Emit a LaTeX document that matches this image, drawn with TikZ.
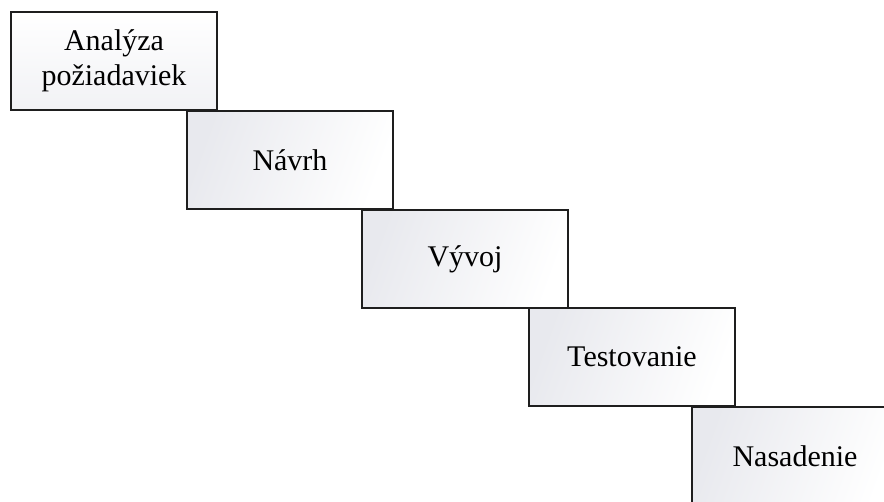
\documentclass[tikz,border=0pt]{standalone}
\usepackage{fontspec}
\setmainfont{Liberation Serif}
\definecolor{boxshade}{HTML}{E8E9EE}
\definecolor{boxline}{HTML}{1E1E1E}
\tikzset{
  phase/.style={draw=boxline, line width=1.6pt, minimum width=206pt, minimum height=98pt,
    inner sep=0pt, outer sep=0pt, left color=boxshade, right color=white, shading angle=70,
    align=center, font=\fontsize{30}{35}\selectfont},
  firstphase/.style={phase, top color=white, bottom color=boxshade!60}
}
\begin{document}
\begin{tikzpicture}[x=1pt,y=-1pt]
\useasboundingbox (0,0) rectangle (884,501);
\clip (0,0) rectangle (884,501);
\node[firstphase] (a) at (114,61) {Analýza\\požiadaviek};
\node[phase] (n) at (290,160) {Návrh};
\node[phase] (v) at (465,259) {Vývoj};
\node[phase] (t) at (632,357) {Testovanie};
\node[phase] (s) at (795,456) {Nasadenie};
\end{tikzpicture}
\end{document}
